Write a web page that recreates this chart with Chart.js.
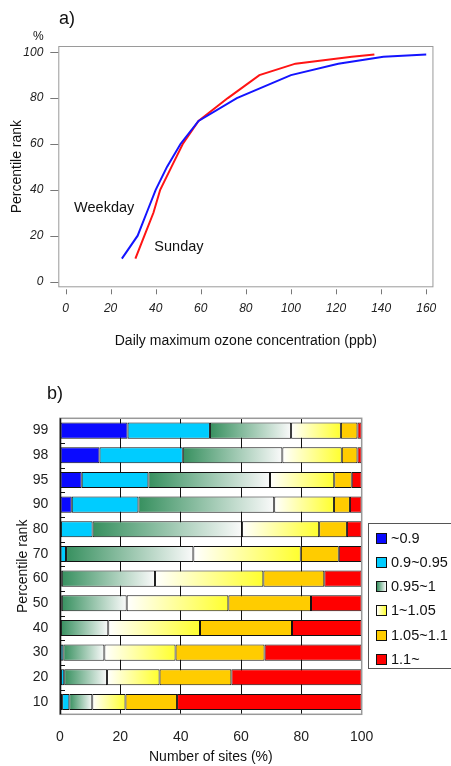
<!DOCTYPE html>
<html>
<head>
<meta charset="utf-8">
<script src="https://cdn.jsdelivr.net/npm/chart.js@4.4.1/dist/chart.umd.min.js"></script>
<style>
  body { margin: 0; background: #fff; font-family: "Liberation Sans", Arial, sans-serif; color: #111; }
  #page { position: relative; width: 451px; height: 766px; overflow: hidden; }
  canvas { position: absolute; left: 0; }
  #chartA { top: 0; }
  #chartB { top: 380px; }
  .tag { position: absolute; font-size: 18px; line-height: 18px; }
  #pct { position: absolute; left: 33px; top: 29px; font-size: 12px; }
  #legend { position: absolute; left: 368px; top: 523px; width: 95px; height: 146px; border: 1px solid #555; box-sizing: border-box; }
  .item { position: absolute; left: 7px; height: 16px; font-size: 14.5px; line-height: 16px; white-space: nowrap; }
  .sw { display: inline-block; width: 9px; height: 9px; border: 1px solid #111; vertical-align: -1px; margin-right: 4px; }
</style>
</head>
<body>
<div id="page">
  <canvas id="chartA" width="451" height="360"></canvas>
  <canvas id="chartB" width="451" height="386"></canvas>
  <div class="tag" style="left:59px; top:9px;">a)</div>
  <div class="tag" style="left:47px; top:384px;">b)</div>
  <div id="pct">%</div>
  <div id="legend"></div>
</div>
<script>
// --- a) percentile rank vs. daily max ozone ---
const ranks = [10, 20, 30, 40, 50, 60, 70, 80, 90, 95, 98, 99];
const weekdayOzone = [25, 32, 36, 40, 45, 51, 59, 76, 100, 121, 141, 160];
const sundayOzone = [31, 35, 39, 42, 47, 52, 59, 72, 86, 102, 127, 137];
const ozoneTicks = [0, 20, 40, 60, 80, 100, 120, 140, 160];
const rankTicks = [0, 20, 40, 60, 80, 100];

// --- b) share of sites per ratio class ---
const rankLabels = ['99', '98', '95', '90', '80', '70', '60', '50', '40', '30', '20', '10'];
const classNames = ['~0.9', '0.9~0.95', '0.95~1', '1~1.05', '1.05~1.1', '1.1~'];
const under090 = [22.4, 13.1, 7.2, 3.9, 0.3, 0, 0, 0, 0, 0.2, 0.3, 0.7];
const from090 = [27.3, 27.6, 22.1, 22.1, 10.5, 2.0, 0.6, 0.6, 0.3, 0.9, 1.1, 2.4];
const from095 = [26.9, 33.0, 40.3, 45.0, 49.5, 42.2, 30.9, 21.5, 15.7, 13.6, 14.2, 7.6];
const from100 = [16.5, 19.7, 21.3, 19.8, 25.6, 35.6, 35.9, 33.7, 30.4, 23.6, 17.4, 11.0];
const from105 = [5.5, 5.2, 5.8, 5.3, 9.2, 12.6, 20.2, 27.4, 30.5, 29.5, 23.8, 17.1];
const over110 = [1.4, 1.4, 3.3, 3.9, 4.9, 7.6, 12.4, 16.8, 23.1, 32.2, 43.2, 61.2];
const siteTicks = [0, 20, 40, 60, 80, 100];

const FONT = '"Liberation Sans", Arial, sans-serif';

// fills: plain colour or [from, to] for a left-to-right gradient
const classFills = ['#0a0aff', '#00ccff', ['#37905f', '#fafafa'], ['#ffffff', '#ffff2e'], '#ffcc00', '#ff0000'];

const curveNotes = [
  { text: 'Weekday', x: 3.8, y: 32.1 },
  { text: 'Sunday', x: 39.4, y: 15.1 }
];

const boxAndNotes = {
  id: 'boxAndNotes',
  afterDraw(chart) {
    const { ctx, chartArea: a, scales: { x, y } } = chart;
    ctx.save();
    ctx.strokeStyle = '#9a9a9a';
    ctx.lineWidth = 1;
    ctx.strokeRect(a.left + 0.5, a.top + 0.5, a.width - 1, a.height - 1);
    ctx.strokeStyle = '#777';
    ctx.beginPath();
    y.ticks.forEach(t => {
      const py = Math.round(y.getPixelForValue(t.value)) + 0.5;
      ctx.moveTo(a.left - 8, py);
      ctx.lineTo(a.left, py);
    });
    x.ticks.forEach(t => {
      const px = Math.round(x.getPixelForValue(t.value)) + 0.5;
      ctx.moveTo(px, a.bottom + 2);
      ctx.lineTo(px, a.bottom + 7);
    });
    ctx.stroke();
    ctx.fillStyle = '#111';
    ctx.font = '14.5px ' + FONT;
    ctx.textBaseline = 'middle';
    curveNotes.forEach(n => ctx.fillText(n.text, x.getPixelForValue(n.x), y.getPixelForValue(n.y)));
    ctx.restore();
  }
};

function toPoints(xs) {
  return xs.map((v, i) => ({ x: v, y: ranks[i] }));
}

new Chart('chartA', {
  type: 'line',
  data: {
    datasets: [
      { label: 'Weekday', data: toPoints(weekdayOzone), borderColor: '#1414ff', borderWidth: 2, pointRadius: 0, tension: 0 },
      { label: 'Sunday', data: toPoints(sundayOzone), borderColor: '#ff1414', borderWidth: 2, pointRadius: 0, tension: 0 }
    ]
  },
  options: {
    responsive: false,
    animation: false,
    layout: { padding: { top: 46, right: 13.7, left: 0, bottom: 0 } },
    plugins: { legend: { display: false }, tooltip: { enabled: false } },
    scales: {
      x: {
        type: 'linear', min: -3.2, max: 163.2,
        afterBuildTicks: s => { s.ticks = ozoneTicks.map(v => ({ value: v })); },
        afterFit: s => { s.height = 72.7; },
        grid: { display: false, drawTicks: false },
        border: { display: false },
        ticks: { padding: 14.5, color: '#222', font: { family: FONT, style: 'italic', size: 12 } },
        title: { display: true, text: 'Daily maximum ozone concentration (ppb)', color: '#111',
                 font: { family: FONT, size: 14 }, padding: { bottom: 10.6 } }
      },
      y: {
        type: 'linear', min: -2.5, max: 102.7,
        afterBuildTicks: s => { s.ticks = rankTicks.map(v => ({ value: v })); },
        afterFit: s => { s.width = 58.3; },
        grid: { display: false, drawTicks: false },
        border: { display: false },
        ticks: { padding: 15, color: '#222', font: { family: FONT, style: 'italic', size: 12 } },
        title: { display: true, text: 'Percentile rank', color: '#111',
                 font: { family: FONT, size: 14 }, padding: { top: 8.6 } }
      }
    }
  },
  plugins: [boxAndNotes]
});

// --- b) stacked bars ---
const classSeries = [under090, from090, from095, from100, from105, over110];

function segmentFill(fill) {
  if (!Array.isArray(fill)) return fill;
  return ctx => {
    const chart = ctx.chart;
    if (!chart.chartArea || ctx.type !== 'data') return fill[0];
    const d = ctx.datasetIndex, i = ctx.dataIndex;
    let start = 0;
    for (let k = 0; k < d; k++) start += classSeries[k][i];
    const end = start + classSeries[d][i];
    const x = chart.scales.x;
    const g = chart.ctx.createLinearGradient(x.getPixelForValue(start), 0, x.getPixelForValue(end), 0);
    g.addColorStop(0, fill[0]);
    g.addColorStop(1, fill[1]);
    return g;
  };
}

const barFrame = {
  id: 'barFrame',
  afterDraw(chart) {
    const { ctx, chartArea: a, scales: { y } } = chart;
    const step = a.height / y.ticks.length;
    ctx.save();
    ctx.strokeStyle = '#111';
    ctx.lineWidth = 1;
    ctx.beginPath();
    for (let i = 1; i < y.ticks.length; i++) {
      const py = Math.round(a.top + i * step) + 0.5;
      ctx.moveTo(a.left, py);
      ctx.lineTo(a.left + 5, py);
    }
    ctx.stroke();
    ctx.strokeStyle = '#999';
    ctx.lineWidth = 1.5;
    ctx.strokeRect(a.left, a.top, a.width, a.height);
    ctx.strokeStyle = '#111';
    ctx.beginPath();
    ctx.moveTo(a.left + 0.5, a.top);
    ctx.lineTo(a.left + 0.5, a.bottom);
    ctx.stroke();
    ctx.restore();
  }
};

new Chart('chartB', {
  type: 'bar',
  data: {
    labels: rankLabels,
    datasets: classSeries.map((vals, k) => ({
      label: classNames[k],
      data: vals,
      backgroundColor: segmentFill(classFills[k]),
      borderColor: '#111',
      borderWidth: 1,
      borderSkipped: false,
      barPercentage: 0.65,
      categoryPercentage: 1
    }))
  },
  options: {
    indexAxis: 'y',
    responsive: false,
    animation: false,
    layout: { padding: { top: 38.3, right: 89.3, left: 0, bottom: 0 } },
    plugins: { legend: { display: false }, tooltip: { enabled: false } },
    scales: {
      x: {
        stacked: true, min: 0, max: 100,
        afterBuildTicks: s => { s.ticks = siteTicks.map(v => ({ value: v })); },
        afterFit: s => { s.height = 51.7; },
        grid: { color: '#111', lineWidth: 1, drawTicks: false },
        border: { display: false },
        ticks: { padding: 14.6, color: '#222', font: { family: FONT, size: 14 } },
        title: { display: true, text: 'Number of sites (%)', color: '#111',
                 font: { family: FONT, size: 14 }, padding: { bottom: 0 } }
      },
      y: {
        stacked: true,
        afterFit: s => { s.width = 60; },
        grid: { display: false, drawTicks: false },
        border: { display: false },
        ticks: { padding: 11.7, color: '#222', font: { family: FONT, size: 14 } },
        title: { display: true, text: 'Percentile rank', color: '#111',
                 font: { family: FONT, size: 14 }, padding: { top: 14.3 } }
      }
    }
  },
  plugins: [barFrame]
});

// legend for b)
const legend = document.getElementById('legend');
classNames.forEach((name, k) => {
  const fill = classFills[k];
  const bg = Array.isArray(fill) ? `linear-gradient(to right, ${fill[0]}, ${fill[1]})` : fill;
  const row = document.createElement('div');
  row.className = 'item';
  row.style.top = (5.5 + k * 24.3) + 'px';
  row.innerHTML = `<span class="sw" style="background:${bg}"></span>${name}`;
  legend.appendChild(row);
});
</script>
</body>
</html>
